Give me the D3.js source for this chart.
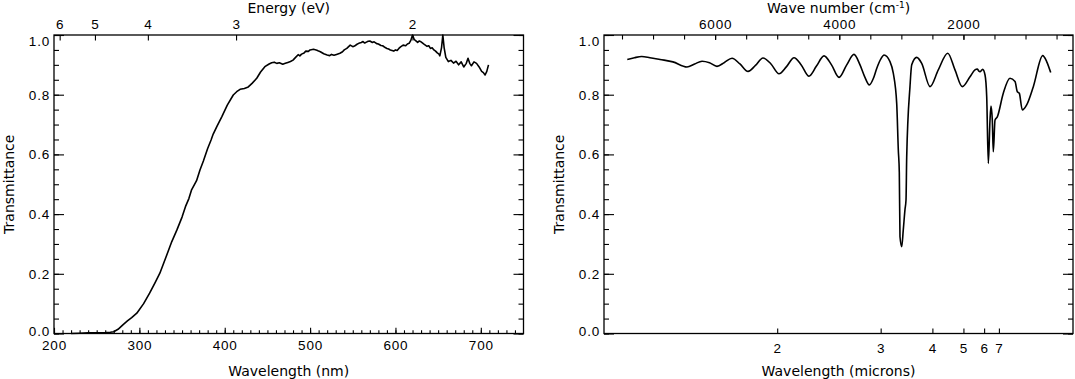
<!DOCTYPE html>
<html>
<head>
<meta charset="utf-8">
<script src="https://cdn.jsdelivr.net/npm/d3@7"></script>
<style>
  html, body { margin: 0; padding: 0; background: #fff; }
  svg { display: block; font-family: "DejaVu Sans", sans-serif; }
  .tick text { font-size: 13.5px; fill: #000; letter-spacing: 0.8px; }
  .tick line { stroke: #000; stroke-width: 1.1; }
  .title { font-size: 14px; fill: #000; }
</style>
</head>
<body>
<div id="chart"></div>
<script>
// UV-visible panel: wavelength (nm) and transmittance
const uvWavelength = [220, 230, 240, 250, 260, 266, 270, 275, 281, 286, 291, 297, 305, 312, 318, 324, 332, 338, 344, 350, 354, 358, 361, 367, 371, 375, 380, 384, 386.5, 391, 396.5, 403, 410, 414, 418, 423, 427.6, 432, 437.5, 442, 447, 452, 455, 458, 461, 464, 468, 471, 474, 477, 480, 483, 486, 488, 490, 493, 495, 498, 500, 504, 508, 510, 512, 516, 520, 523, 525, 528, 531, 535, 538, 540, 543, 547, 550, 552, 555, 557, 560, 562, 564, 566, 568, 570, 573, 575, 578, 580, 583, 585, 588, 590, 592, 594, 596, 598, 600, 602, 604, 606, 609, 612, 614, 616, 618, 620, 622, 624, 626, 628, 630, 633, 635, 637, 639, 641, 643, 645, 647, 649, 651, 652, 654, 655.5, 657, 659, 662, 665, 668, 671, 674, 677, 680, 683, 685, 687, 689, 692, 695, 698, 701, 703, 705, 707, 709];
const uvTransmittance = [0.000, 0.001, 0.002, 0.002, 0.003, 0.004, 0.006, 0.014, 0.030, 0.042, 0.053, 0.068, 0.100, 0.135, 0.168, 0.202, 0.262, 0.308, 0.347, 0.390, 0.425, 0.452, 0.480, 0.512, 0.548, 0.578, 0.620, 0.648, 0.668, 0.695, 0.726, 0.765, 0.799, 0.810, 0.818, 0.821, 0.826, 0.838, 0.855, 0.876, 0.894, 0.903, 0.907, 0.909, 0.905, 0.907, 0.902, 0.905, 0.908, 0.911, 0.916, 0.925, 0.934, 0.930, 0.936, 0.940, 0.946, 0.945, 0.950, 0.952, 0.949, 0.946, 0.944, 0.937, 0.933, 0.931, 0.935, 0.932, 0.935, 0.939, 0.944, 0.950, 0.955, 0.966, 0.961, 0.963, 0.969, 0.972, 0.975, 0.978, 0.973, 0.976, 0.979, 0.980, 0.975, 0.977, 0.971, 0.970, 0.965, 0.964, 0.958, 0.955, 0.953, 0.950, 0.948, 0.946, 0.950, 0.948, 0.955, 0.960, 0.966, 0.964, 0.970, 0.972, 0.982, 1.000, 0.985, 0.980, 0.975, 0.980, 0.977, 0.970, 0.966, 0.962, 0.964, 0.955, 0.957, 0.950, 0.946, 0.940, 0.936, 0.930, 0.958, 1.000, 0.958, 0.925, 0.911, 0.915, 0.906, 0.912, 0.900, 0.910, 0.893, 0.905, 0.922, 0.905, 0.897, 0.910, 0.905, 0.893, 0.878, 0.874, 0.866, 0.878, 0.900];

// IR panel: wave number (cm-1) and transmittance
const irWavenumber = [7415, 7300, 7183, 7050, 6888, 6680, 6453, 6330, 6211, 6090, 5970, 5850, 5728, 5600, 5470, 5350, 5229, 5100, 4971, 4850, 4729, 4610, 4488, 4370, 4246, 4125, 4004, 3880, 3763, 3666, 3590, 3516, 3450, 3397, 3330, 3279, 3183, 3130, 3075, 3049, 3033, 3022, 2994, 2969, 2942, 2925, 2914, 2861, 2833, 2753, 2672, 2538, 2405, 2253, 2136, 2018, 1894, 1814, 1777, 1755, 1733, 1690, 1652, 1625, 1599, 1572, 1556, 1535, 1519, 1491, 1454, 1358, 1250, 1169, 1132, 1100, 1052, 981, 874, 723, 659, 594];
const irTransmittance = [0.918, 0.924, 0.928, 0.924, 0.918, 0.910, 0.893, 0.903, 0.912, 0.907, 0.895, 0.908, 0.922, 0.903, 0.878, 0.898, 0.923, 0.903, 0.870, 0.894, 0.924, 0.899, 0.862, 0.895, 0.930, 0.900, 0.858, 0.900, 0.935, 0.900, 0.860, 0.833, 0.855, 0.888, 0.920, 0.933, 0.911, 0.872, 0.771, 0.615, 0.540, 0.324, 0.291, 0.347, 0.414, 0.447, 0.590, 0.827, 0.900, 0.925, 0.905, 0.827, 0.883, 0.939, 0.883, 0.827, 0.860, 0.883, 0.886, 0.880, 0.877, 0.885, 0.866, 0.793, 0.570, 0.715, 0.762, 0.715, 0.609, 0.715, 0.726, 0.805, 0.855, 0.844, 0.810, 0.805, 0.749, 0.766, 0.827, 0.931, 0.911, 0.874];

// tick labels
const transTicks = [0, 0.2, 0.4, 0.6, 0.8, 1.0];
const nmTicks = [200, 300, 400, 500, 600, 700];
const energyTicks = [6, 5, 4, 3, 2];
const wnTicks = [6000, 4000, 2000];
const micronTicks = [2, 3, 4, 5, 6, 7];

const HC = 1239.84; // eV * nm

const W = 1075, H = 379;
const plotTop = 35, plotBottom = 333.5;

const svg = d3.select("#chart").append("svg")
    .attr("width", W)
    .attr("height", H);

const y = d3.scaleLinear().domain([0, 1]).range([plotBottom, plotTop]);
const minorT = d3.range(0, 1.0001, 0.05);

// =========================
// SHARED Y AXES + FRAME
// =========================
function drawFrameAndY(x0, x1) {
    const g = svg.append("g");

    // left: labelled majors
    const left = g.append("g")
        .attr("transform", `translate(${x0},0)`)
        .call(d3.axisLeft(y).tickValues(transTicks).tickSize(-10).tickPadding(4).tickFormat(d3.format(".1f")));
    left.selectAll(".tick text")
        .filter(d => d === 1).attr("dy", "0.78em");
    left.selectAll(".tick text")
        .filter(d => d === 0).attr("dy", "0.12em");

    g.append("g")
        .attr("transform", `translate(${x0},0)`)
        .call(d3.axisLeft(y).tickValues(minorT).tickSize(-5).tickFormat(""));

    // right side mirror
    g.append("g")
        .attr("transform", `translate(${x1},0)`)
        .call(d3.axisRight(y).tickValues(transTicks).tickSize(-10).tickFormat(""));
    g.append("g")
        .attr("transform", `translate(${x1},0)`)
        .call(d3.axisRight(y).tickValues(minorT).tickSize(-5).tickFormat(""));

    g.selectAll(".domain").remove();

    g.append("rect")
        .attr("x", x0)
        .attr("y", plotTop)
        .attr("width", x1 - x0)
        .attr("height", plotBottom - plotTop)
        .attr("fill", "none")
        .attr("stroke", "#000")
        .attr("stroke-width", 1.3);

    g.append("text")
        .attr("class", "title")
        .attr("transform", `translate(${x0 - 40.5},${(plotTop + plotBottom) / 2}) rotate(-90)`)
        .attr("text-anchor", "middle")
        .text("Transmittance");
}

// =========================
// LEFT PANEL (UV-VIS)
// =========================
const xl0 = 54, xl1 = 523.5;
const xNm = d3.scaleLinear().domain([200, 750]).range([xl0, xl1]);

drawFrameAndY(xl0, xl1);

svg.append("g")
    .attr("transform", `translate(0,${plotBottom})`)
    .call(d3.axisBottom(xNm).tickValues(nmTicks).tickSize(-5.7).tickPadding(7.3).tickFormat(d3.format("d")));
svg.append("g")
    .attr("transform", `translate(0,${plotBottom})`)
    .call(d3.axisBottom(xNm).tickValues(d3.range(200, 750, 10)).tickSize(-3.2).tickFormat(""));

svg.append("g")
    .attr("transform", `translate(0,${plotTop})`)
    .call(d3.axisTop(xNm)
        .tickValues(energyTicks.map(e => HC / e))
        .tickSize(-5.5)
        .tickPadding(6)
        .tickFormat(l => d3.format("d")(Math.round(HC / l))));

svg.selectAll(".domain").remove();

const uvData = uvWavelength.map((w, i) => ({ w, t: uvTransmittance[i] }));
svg.append("path")
    .datum(uvData)
    .attr("fill", "none")
    .attr("stroke", "#000")
    .attr("stroke-width", 1.6)
    .attr("stroke-linejoin", "round")
    .attr("d", d3.line().x(d => xNm(d.w)).y(d => y(d.t)));

svg.append("text")
    .attr("class", "title")
    .attr("x", (xl0 + xl1) / 2)
    .attr("y", 376)
    .attr("text-anchor", "middle")
    .text("Wavelength (nm)");

svg.append("text")
    .attr("class", "title")
    .attr("x", (xl0 + xl1) / 2)
    .attr("y", 12.5)
    .attr("text-anchor", "middle")
    .text("Energy (eV)");

// =========================
// RIGHT PANEL (IR)
// =========================
const xr0 = 604, xr1 = 1073;
const xWn = d3.scaleLinear().domain([7790, 235]).range([xr0, xr1]);

drawFrameAndY(xr0, xr1);

svg.append("g")
    .attr("transform", `translate(0,${plotBottom})`)
    .call(d3.axisBottom(xWn)
        .tickValues(micronTicks.map(m => 1e4 / m))
        .tickSize(-5)
        .tickPadding(10)
        .tickFormat(w => d3.format("d")(Math.round(1e4 / w))));

svg.append("g")
    .attr("transform", `translate(0,${plotTop})`)
    .call(d3.axisTop(xWn).tickValues(wnTicks).tickSize(-5).tickPadding(6).tickFormat(d3.format("d")));
svg.append("g")
    .attr("transform", `translate(0,${plotTop})`)
    .call(d3.axisTop(xWn).tickValues(d3.range(500, 7800, 500)).tickSize(-4.5).tickFormat(""));

svg.selectAll(".domain").remove();

const irData = irWavenumber.map((k, i) => ({ k, t: irTransmittance[i] }));
svg.append("path")
    .datum(irData)
    .attr("fill", "none")
    .attr("stroke", "#000")
    .attr("stroke-width", 1.6)
    .attr("stroke-linejoin", "round")
    .attr("d", d3.line().curve(d3.curveMonotoneX).x(d => xWn(d.k)).y(d => y(d.t)));

svg.append("text")
    .attr("class", "title")
    .attr("x", (xr0 + xr1) / 2)
    .attr("y", 376)
    .attr("text-anchor", "middle")
    .text("Wavelength (microns)");

const wnTitle = svg.append("text")
    .attr("class", "title")
    .attr("x", (xr0 + xr1) / 2)
    .attr("y", 13)
    .attr("text-anchor", "middle");
wnTitle.append("tspan").text("Wave number (cm");
wnTitle.append("tspan").attr("dy", -5).style("font-size", "9px").text("-1");
wnTitle.append("tspan").attr("dy", 5).text(")");
</script>
</body>
</html>
